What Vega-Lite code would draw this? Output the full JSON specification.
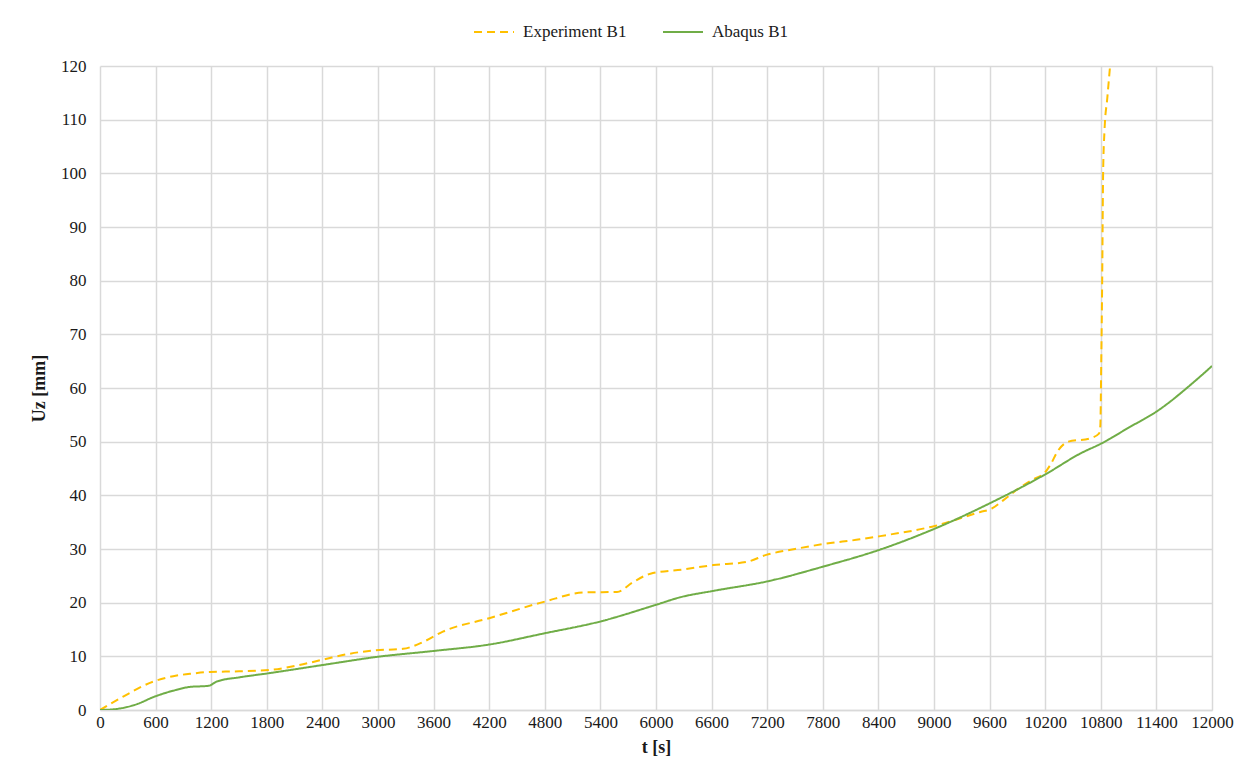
{
  "$schema": "https://vega.github.io/schema/vega-lite/v6.json",
  "autosize": {"type": "none"},
  "width": 1112,
  "height": 644,
  "padding": {"left": 100, "top": 66, "right": 48, "bottom": 74},
  "background": "white",
  "config": {
    "font": "Liberation Serif",
    "view": {"stroke": null},
    "axis": {
      "labelFont": "Liberation Serif",
      "titleFont": "Liberation Serif",
      "labelFontSize": 17,
      "titleFontSize": 18,
      "labelColor": "#1a1a1a",
      "titleColor": "#1a1a1a",
      "gridColor": "#d9d9d9",
      "gridWidth": 1.5,
      "domainColor": "#d9d9d9",
      "domainWidth": 1.5,
      "ticks": false
    }
  },
  "data": {
    "values": [
      {"series": "Experiment B1", "t": 0, "uz": 0},
      {"series": "Experiment B1", "t": 250, "uz": 2.5},
      {"series": "Experiment B1", "t": 575, "uz": 5.3},
      {"series": "Experiment B1", "t": 790, "uz": 6.3},
      {"series": "Experiment B1", "t": 1000, "uz": 6.8},
      {"series": "Experiment B1", "t": 1190, "uz": 7.1},
      {"series": "Experiment B1", "t": 1500, "uz": 7.2},
      {"series": "Experiment B1", "t": 1830, "uz": 7.45},
      {"series": "Experiment B1", "t": 2100, "uz": 8.2},
      {"series": "Experiment B1", "t": 2410, "uz": 9.4},
      {"series": "Experiment B1", "t": 2700, "uz": 10.5},
      {"series": "Experiment B1", "t": 2950, "uz": 11.1},
      {"series": "Experiment B1", "t": 3270, "uz": 11.4},
      {"series": "Experiment B1", "t": 3490, "uz": 12.7},
      {"series": "Experiment B1", "t": 3700, "uz": 14.6},
      {"series": "Experiment B1", "t": 4200, "uz": 17.1},
      {"series": "Experiment B1", "t": 4800, "uz": 20.2},
      {"series": "Experiment B1", "t": 5220, "uz": 21.9},
      {"series": "Experiment B1", "t": 5580, "uz": 22.0},
      {"series": "Experiment B1", "t": 5750, "uz": 23.8},
      {"series": "Experiment B1", "t": 5940, "uz": 25.4},
      {"series": "Experiment B1", "t": 6300, "uz": 26.2},
      {"series": "Experiment B1", "t": 6620, "uz": 27.0},
      {"series": "Experiment B1", "t": 6980, "uz": 27.6},
      {"series": "Experiment B1", "t": 7190, "uz": 28.9},
      {"series": "Experiment B1", "t": 7500, "uz": 30.0},
      {"series": "Experiment B1", "t": 7800, "uz": 30.9},
      {"series": "Experiment B1", "t": 8200, "uz": 31.8},
      {"series": "Experiment B1", "t": 8420, "uz": 32.4},
      {"series": "Experiment B1", "t": 9010, "uz": 34.3},
      {"series": "Experiment B1", "t": 9500, "uz": 36.9},
      {"series": "Experiment B1", "t": 9620, "uz": 37.5},
      {"series": "Experiment B1", "t": 9750, "uz": 39.1},
      {"series": "Experiment B1", "t": 9890, "uz": 41.0},
      {"series": "Experiment B1", "t": 10050, "uz": 42.8},
      {"series": "Experiment B1", "t": 10200, "uz": 44.3},
      {"series": "Experiment B1", "t": 10260, "uz": 45.8},
      {"series": "Experiment B1", "t": 10330, "uz": 48.1},
      {"series": "Experiment B1", "t": 10450, "uz": 50.0},
      {"series": "Experiment B1", "t": 10680, "uz": 50.6},
      {"series": "Experiment B1", "t": 10780, "uz": 51.5},
      {"series": "Experiment B1", "t": 10795, "uz": 53},
      {"series": "Experiment B1", "t": 10805, "uz": 65},
      {"series": "Experiment B1", "t": 10815, "uz": 80},
      {"series": "Experiment B1", "t": 10825, "uz": 100},
      {"series": "Experiment B1", "t": 10840, "uz": 108},
      {"series": "Experiment B1", "t": 10870, "uz": 114},
      {"series": "Experiment B1", "t": 10900, "uz": 120},
      {"series": "Abaqus B1", "t": 0, "uz": 0},
      {"series": "Abaqus B1", "t": 180, "uz": 0.2},
      {"series": "Abaqus B1", "t": 400, "uz": 1.1},
      {"series": "Abaqus B1", "t": 575, "uz": 2.4},
      {"series": "Abaqus B1", "t": 790, "uz": 3.6},
      {"series": "Abaqus B1", "t": 970, "uz": 4.3},
      {"series": "Abaqus B1", "t": 1170, "uz": 4.5},
      {"series": "Abaqus B1", "t": 1260, "uz": 5.3},
      {"series": "Abaqus B1", "t": 1510, "uz": 6.1},
      {"series": "Abaqus B1", "t": 1800, "uz": 6.8},
      {"series": "Abaqus B1", "t": 2410, "uz": 8.4},
      {"series": "Abaqus B1", "t": 2990, "uz": 9.9},
      {"series": "Abaqus B1", "t": 3600, "uz": 11.0},
      {"series": "Abaqus B1", "t": 4200, "uz": 12.2},
      {"series": "Abaqus B1", "t": 4800, "uz": 14.3},
      {"series": "Abaqus B1", "t": 5400, "uz": 16.5},
      {"series": "Abaqus B1", "t": 6000, "uz": 19.6},
      {"series": "Abaqus B1", "t": 6260, "uz": 21.0},
      {"series": "Abaqus B1", "t": 6620, "uz": 22.2},
      {"series": "Abaqus B1", "t": 7210, "uz": 24.0},
      {"series": "Abaqus B1", "t": 7800, "uz": 26.7},
      {"series": "Abaqus B1", "t": 8420, "uz": 29.9},
      {"series": "Abaqus B1", "t": 9010, "uz": 33.8},
      {"series": "Abaqus B1", "t": 9600, "uz": 38.5},
      {"series": "Abaqus B1", "t": 10220, "uz": 44.1},
      {"series": "Abaqus B1", "t": 10580, "uz": 47.8},
      {"series": "Abaqus B1", "t": 10810, "uz": 49.7},
      {"series": "Abaqus B1", "t": 11100, "uz": 52.6},
      {"series": "Abaqus B1", "t": 11400, "uz": 55.6},
      {"series": "Abaqus B1", "t": 11830, "uz": 61.5},
      {"series": "Abaqus B1", "t": 12000, "uz": 64.1}
    ]
  },
  "mark": {"type": "line", "strokeWidth": 2, "interpolate": "monotone", "clip": true},
  "encoding": {
    "x": {
      "field": "t", "type": "quantitative", "title": "t [s]",
      "scale": {"domain": [0, 12000], "nice": false},
      "axis": {"values": [0,600,1200,1800,2400,3000,3600,4200,4800,5400,6000,6600,7200,7800,8400,9000,9600,10200,10800,11400,12000], "format": "d", "labelFont": "Liberation Serif", "labelPadding": 4, "titlePadding": 8, "titleFontWeight": "bold", "labelFlush": false}
    },
    "y": {
      "field": "uz", "type": "quantitative", "title": "Uz [mm]",
      "scale": {"domain": [0, 120], "nice": false},
      "axis": {"values": [0,10,20,30,40,50,60,70,80,90,100,110,120], "format": "d", "labelFont": "Liberation Serif", "labelPadding": 14, "titlePadding": 12, "titleFontWeight": "bold", "domain": false}
    },
    "color": {
      "field": "series", "type": "nominal",
      "scale": {"domain": ["Experiment B1", "Abaqus B1"], "range": ["#FFC000", "#70AD47"]},
      "legend": {
        "title": null, "orient": "none", "direction": "horizontal",
        "legendX": 373, "legendY": -55,
        "symbolType": "stroke", "symbolSize": 1600, "symbolStrokeWidth": 2,
        "labelFont": "Liberation Serif", "labelFontSize": 17, "labelColor": "#1a1a1a",
        "labelOffset": 8, "columnPadding": 32
      }
    },
    "strokeDash": {
      "field": "series", "type": "nominal",
      "scale": {"domain": ["Experiment B1", "Abaqus B1"], "range": [[8, 5], [1, 0]]},
      "legend": null
    }
  }
}
